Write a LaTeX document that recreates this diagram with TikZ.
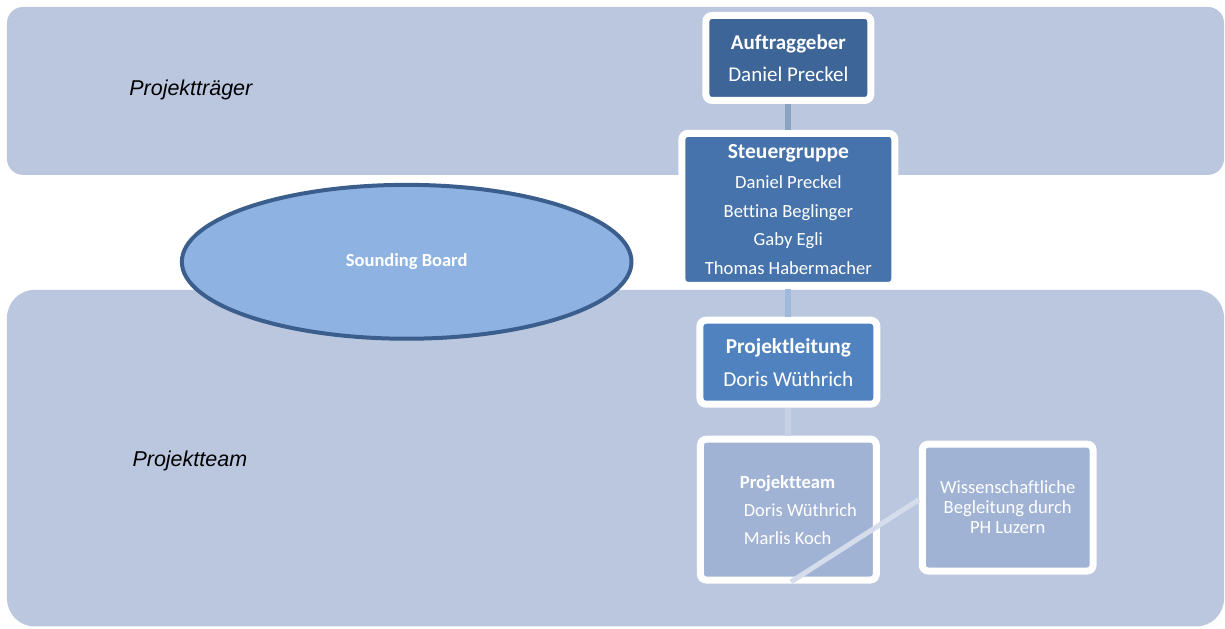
\documentclass[tikz,border=0pt]{standalone}
\usepackage{fontspec}
\setmainfont[Ligatures=NoCommon]{Carlito}
\newfontfamily\armfont{Liberation Sans}
\usetikzlibrary{positioning, shapes.geometric}

\definecolor{bandblue}{HTML}{BAC7DF}
\definecolor{auftblue}{HTML}{3E6597}
\definecolor{steuerblue}{HTML}{4673AC}
\definecolor{leitblue}{HTML}{5082BF}
\definecolor{teamblue}{HTML}{A1B3D5}
\definecolor{ovalblue}{HTML}{8EB3E2}
\definecolor{ovalline}{HTML}{3B5E8D}

\begin{document}
\begin{tikzpicture}[x=1pt,y=-1pt,
  band/.style={fill=bandblue,draw=none},
  band label/.style={font=\armfont\itshape\fontsize{21.5}{24}\selectfont},
  org node/.style={rectangle,rounded corners=6pt,draw=white,line width=7pt,
    text=white,align=center,inner sep=0pt},
  link/.style={line width=6pt}]
  \useasboundingbox (0,0) rectangle (1226,629);
  % the two bands
  \fill[band,rounded corners=16pt] (7,7) rectangle (1225,175);
  \fill[band,rounded corners=28pt] (7,290) rectangle (1225,627);
  \node[band label] (traeger) at (191,90) {Projektträger};
  \node[band label] (pteam) at (190,461) {Projektteam};
  % sounding board
  \node[ellipse,fill=ovalblue,draw=ovalline,line width=4pt,minimum width=450pt,minimum height=154pt,
    text=white,font=\bfseries\fontsize{18.5}{20}\selectfont] (board) at (407,262) {Sounding Board};
  % chain of boxes
  \node[org node,fill=auftblue,minimum width=165pt,minimum height=85pt,
    font=\fontsize{21}{32}\selectfont] (auft) at (789,58)
    {\textbf{Auftraggeber}\\Daniel Preckel};
  \node[org node,fill=steuerblue,minimum width=213pt,minimum height=152pt,
    font=\fontsize{18.6}{28.5}\selectfont,below=26pt of auft] (steuer)
    {{\fontsize{21.5}{28.5}\selectfont\textbf{Steuergruppe}}\\[1.5pt]Daniel Preckel\\Bettina Beglinger\\Gaby Egli\\Thomas Habermacher};
  \node[org node,fill=leitblue,minimum width=177pt,minimum height=84pt,
    font=\fontsize{21.3}{33}\selectfont,below=28pt of steuer] (leit)
    {\textbf{Projektleitung}\\Doris Wüthrich};
  \node[org node,fill=teamblue,minimum width=176pt,minimum height=141pt,align=left,
    font=\fontsize{18.5}{28}\selectfont,below=28pt of leit] (team)
    {\hspace*{20pt}{\fontsize{18.6}{28}\selectfont\textbf{Projektteam}}\\\hspace*{24pt}Doris Wüthrich\\\hspace*{24pt}Marlis Koch};
  \node[org node,fill=teamblue,minimum width=171pt,minimum height=127pt,
    font=\fontsize{18.6}{20}\selectfont,right=39pt of team,yshift=2pt] (wiss)
    {Wissenschaftliche\\Begleitung durch\\PH Luzern};
  % connectors
  \draw[link,color=auftblue!60!white] (auft.south) -- (steuer.north);
  \draw[link,color=leitblue!55!white] (steuer.south) -- (leit.north);
  \draw[link,color=teamblue!60!white] (leit.south) -- (team.north);
  \draw[line width=5pt,color=teamblue!45!white,shorten <=3pt] (team.south) -- (wiss.175);
\end{tikzpicture}
\end{document}
